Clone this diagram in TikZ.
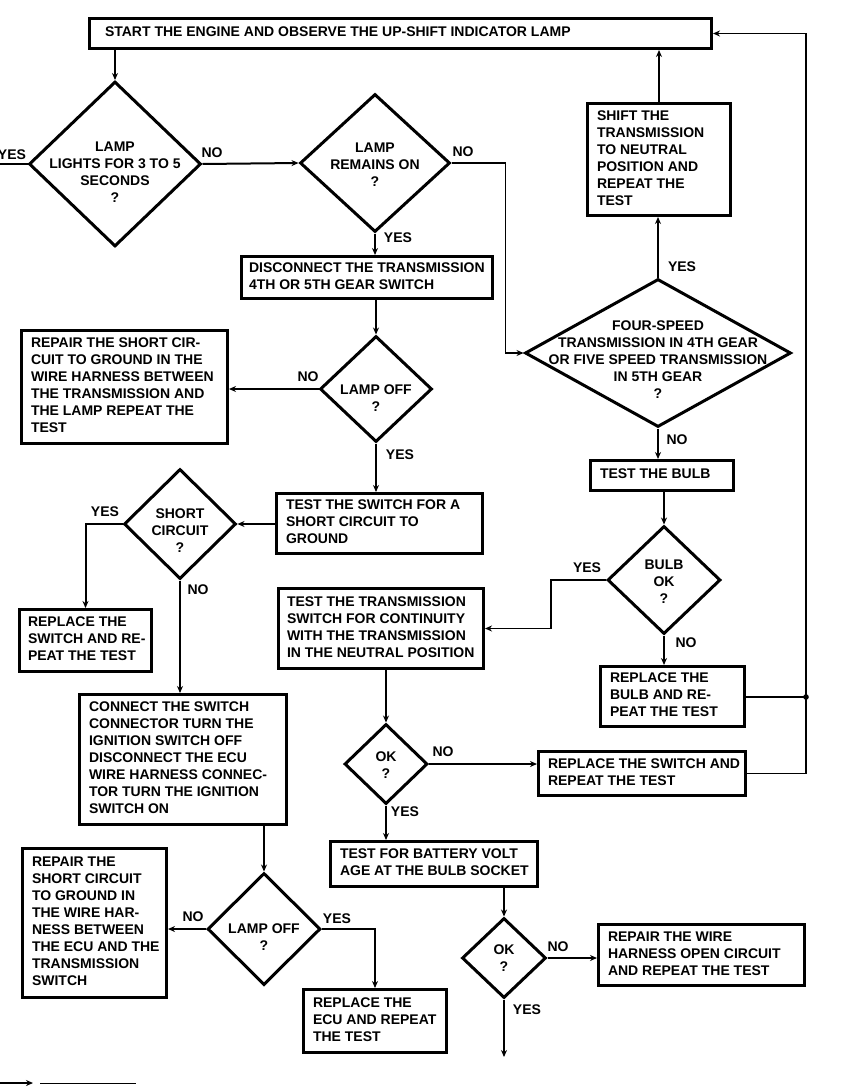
\documentclass[tikz,border=0pt]{standalone}
\usepackage{fontspec}
\setmainfont{Liberation Sans}
\usetikzlibrary{shapes.geometric,arrows.meta}
\newcommand\fnt{\fontsize{14}{17}\selectfont\bfseries}
% \flbox[margin]{name}{x1}{y1}{x2}{y2}{lines}
\newcommand\flbox[7][11]{%
 \pgfmathsetmacro\flbw{#5-#3-3}%
 \pgfmathsetmacro\flbh{#6-#4-3}%
 \pgfmathsetmacro\flxs{#1-1.5}%
 \pgfmathsetmacro\fltw{\flbw-2*\flxs}%
 \node[box, inner xsep=\flxs pt, minimum width=\flbw pt, minimum height=\flbh pt] (#2) at ({(#3+#5)/2},{(#4+#6)/2}) {\makebox[\fltw pt][l]{\begin{tabular}{@{}l@{}}#7\end{tabular}}};}
\begin{document}
\begin{tikzpicture}[x=1pt,y=-1pt,
 box/.style={draw, line width=3pt, rectangle, inner ysep=2pt, font=\fnt},
 dia/.style={draw, diamond, line width=3pt, inner sep=0pt},
 dtext/.style={align=center, font=\fnt, inner sep=0pt},
 conn/.style={line width=2pt, -{Stealth[length=7pt,width=6pt]}},
 thinconn/.style={line width=1.4pt, -{Stealth[length=7pt,width=6pt]}},
 plainln/.style={line width=1.4pt},
 lbl/.style={font=\fnt, inner sep=0pt}]
\fill[white] (0,0) rectangle (863,1092);
\useasboundingbox (0,0) rectangle (863,1092);

% ---------- boxes ----------
\flbox[17]{b0}{88}{17}{713}{50}{START THE ENGINE AND OBSERVE THE UP-SHIFT INDICATOR LAMP}
\flbox{bshift}{586}{102}{732}{217}{SHIFT THE\\TRANSMISSION\\TO NEUTRAL\\POSITION AND\\REPEAT THE\\TEST}
\flbox[9]{bdisc}{240}{255}{494}{300}{DISCONNECT THE TRANSMISSION\\4TH OR 5TH GEAR SWITCH}
\flbox{brepa}{20}{329}{229}{445}{REPAIR THE SHORT CIR-\\CUIT TO GROUND IN THE\\WIRE HARNESS BETWEEN\\THE TRANSMISSION AND\\THE LAMP REPEAT THE\\TEST}
\flbox{btestsw}{275}{492}{484}{555}{TEST THE SWITCH FOR A\\SHORT CIRCUIT TO\\GROUND}
\flbox[10]{breplswa}{18}{608}{153}{673}{REPLACE THE\\SWITCH AND RE-\\PEAT THE TEST}
\flbox{bconn}{78}{693}{288}{826}{CONNECT THE SWITCH\\CONNECTOR TURN THE\\IGNITION SWITCH OFF\\DISCONNECT THE ECU\\WIRE HARNESS CONNEC-\\TOR TURN THE IGNITION\\SWITCH ON}
\flbox{brepb}{21}{847}{168}{999}{REPAIR THE\\SHORT CIRCUIT\\TO GROUND IN\\THE WIRE HAR-\\NESS BETWEEN\\THE ECU AND THE\\TRANSMISSION\\SWITCH}
\flbox{becu}{302}{988}{448}{1054}{REPLACE THE\\ECU AND REPEAT\\THE TEST}
\flbox{bbulb}{589}{459}{735}{492}{TEST THE BULB}
\flbox[10]{btrans}{277}{587}{485}{670}{TEST THE TRANSMISSION\\SWITCH FOR CONTINUITY\\WITH THE TRANSMISSION\\IN THE NEUTRAL POSITION}
\flbox{breplbulb}{599}{665}{746}{728}{REPLACE THE\\BULB AND RE-\\PEAT THE TEST}
\flbox{breplswb}{537}{750}{747}{797}{REPLACE THE SWITCH AND\\REPEAT THE TEST}
\flbox{bbatt}{329}{840}{539}{888}{TEST FOR BATTERY VOLT\\AGE AT THE BULB SOCKET}
\flbox{bwire}{597}{923}{806}{987}{REPAIR THE WIRE\\HARNESS OPEN CIRCUIT\\AND REPEAT THE TEST}

% ---------- diamonds ----------
\node[dia, minimum width=172pt, minimum height=165pt] (d1) at (115,164) {};
\node[dia, minimum width=150pt, minimum height=138pt] (d2) at (375,163) {};
\node[dia, minimum width=112pt, minimum height=106pt] (d3) at (376,389) {};
\node[dia, minimum width=112pt, minimum height=110pt] (d4) at (180,524) {};
\node[dia, minimum width=113pt, minimum height=112pt] (d5) at (264,929) {};
\node[dia, minimum width=266pt, minimum height=148pt] (d6) at (658,353) {};
\node[dia, minimum width=113pt, minimum height=108pt] (d7) at (664,580) {};
\node[dia, minimum width=83pt, minimum height=80pt] (d8) at (386,764) {};
\node[dia, minimum width=84pt, minimum height=80pt] (d9) at (504,958) {};

\node[dtext] (d1t) at (115,172) {LAMP\\LIGHTS FOR 3 TO 5\\SECONDS\\?};
\node[dtext] (d2t) at (375,165) {LAMP\\REMAINS ON\\?};
\node[dtext] (d3t) at (376,398) {LAMP OFF\\?};
\node[dtext] (d4t) at (180,531) {SHORT\\CIRCUIT\\?};
\node[dtext] (d5t) at (264,937) {LAMP OFF\\?};
\node[dtext] (d6t) at (658,360) {FOUR-SPEED\\TRANSMISSION IN 4TH GEAR\\OR FIVE SPEED TRANSMISSION\\IN 5TH GEAR\\?};
\node[dtext] (d7t) at (664,582) {BULB\\OK\\?};
\node[dtext] (d8t) at (386,765) {OK\\?};
\node[dtext] (d9t) at (504,958) {OK\\?};

% ---------- connectors ----------
\coordinate (yesout) at (0,164);
\coordinate (endyes) at (504,1057);
\coordinate (jn) at (806,697);
\coordinate (bla) at (0,1083);
\coordinate (blb) at (33,1083);
\coordinate (blc) at (40,1083);
\coordinate (bld) at (136,1083);

\draw[conn] (d1.north |- b0.south) -- (d1.north);
\draw[line width=2pt] (d1.west) -- (yesout);
\draw[conn] (d1.east) -- (d2.west);
\draw[thinconn] (d2.east) -- ++(54,0) |- (d6.west);
\draw[conn] (d2.south) -- (d2.south |- bdisc.north);
\draw[conn] (d3.north |- bdisc.south) -- (d3.north);
\draw[conn] (d3.west) -- (d3.west -| brepa.east);
\draw[conn] (d3.south) -- (d3.south |- btestsw.north);
\draw[conn] (btestsw.west |- d4.east) -- (d4.east);
\draw[conn] (d4.west) -| (breplswa.north);
\draw[conn] (d4.south) -- (d4.south |- bconn.north);
\draw[conn] (d5.north |- bconn.south) -- (d5.north);
\draw[conn] (d5.west) -- (d5.west -| brepb.east);
\draw[conn] (d5.east) -| (becu.north);
\draw[conn] (d6.north) -- (d6.north |- bshift.south);
\draw[conn] (bshift.north) -- (bshift.north |- b0.south);
\draw[conn] (d6.south) -- (d6.south |- bbulb.north);
\draw[conn] (d7.north |- bbulb.south) -- (d7.north);
\draw[thinconn] (d7.west) -- ++(-55,0) |- (btrans.east);
\draw[conn] (d7.south) -- (d7.south |- breplbulb.north);
\draw[conn] (d8.north |- btrans.south) -- (d8.north);
\draw[thinconn] (d8.east) -- (d8.east -| breplswb.west);
\draw[conn] (d8.south) -- (d8.south |- bbatt.north);
\draw[conn] (d9.north |- bbatt.south) -- (d9.north);
\draw[conn] (d9.east) -- (d9.east -| bwire.west);
\draw[conn] (d9.south) -- (endyes);
\draw[plainln] (breplbulb.east |- jn) -- (jn);
\draw[plainln] (breplswb.east) -| (jn);
\draw[thinconn] (jn) |- (b0.east);
\fill (jn) circle (2.8pt);
\draw[conn] (bla) -- (blb);
\draw[line width=1pt] (blc) -- (bld);

% ---------- labels ----------
\node[lbl] (l1) at (12,155) {YES};
\node[lbl] (l2) at (212,153) {NO};
\node[lbl] (l3) at (463,152) {NO};
\node[lbl] (l4) at (398,238) {YES};
\node[lbl] (l5) at (308,377) {NO};
\node[lbl] (l6) at (400,455) {YES};
\node[lbl] (l7) at (105,512) {YES};
\node[lbl] (l8) at (198,590) {NO};
\node[lbl] (l9) at (193,917) {NO};
\node[lbl] (l10) at (337,919) {YES};
\node[lbl] (l11) at (682,267) {YES};
\node[lbl] (l12) at (677,440) {NO};
\node[lbl] (l13) at (587,568) {YES};
\node[lbl] (l14) at (686,643) {NO};
\node[lbl] (l15) at (443,752) {NO};
\node[lbl] (l16) at (405,812) {YES};
\node[lbl] (l17) at (558,947) {NO};
\node[lbl] (l18) at (527,1010) {YES};
\end{tikzpicture}
\end{document}
